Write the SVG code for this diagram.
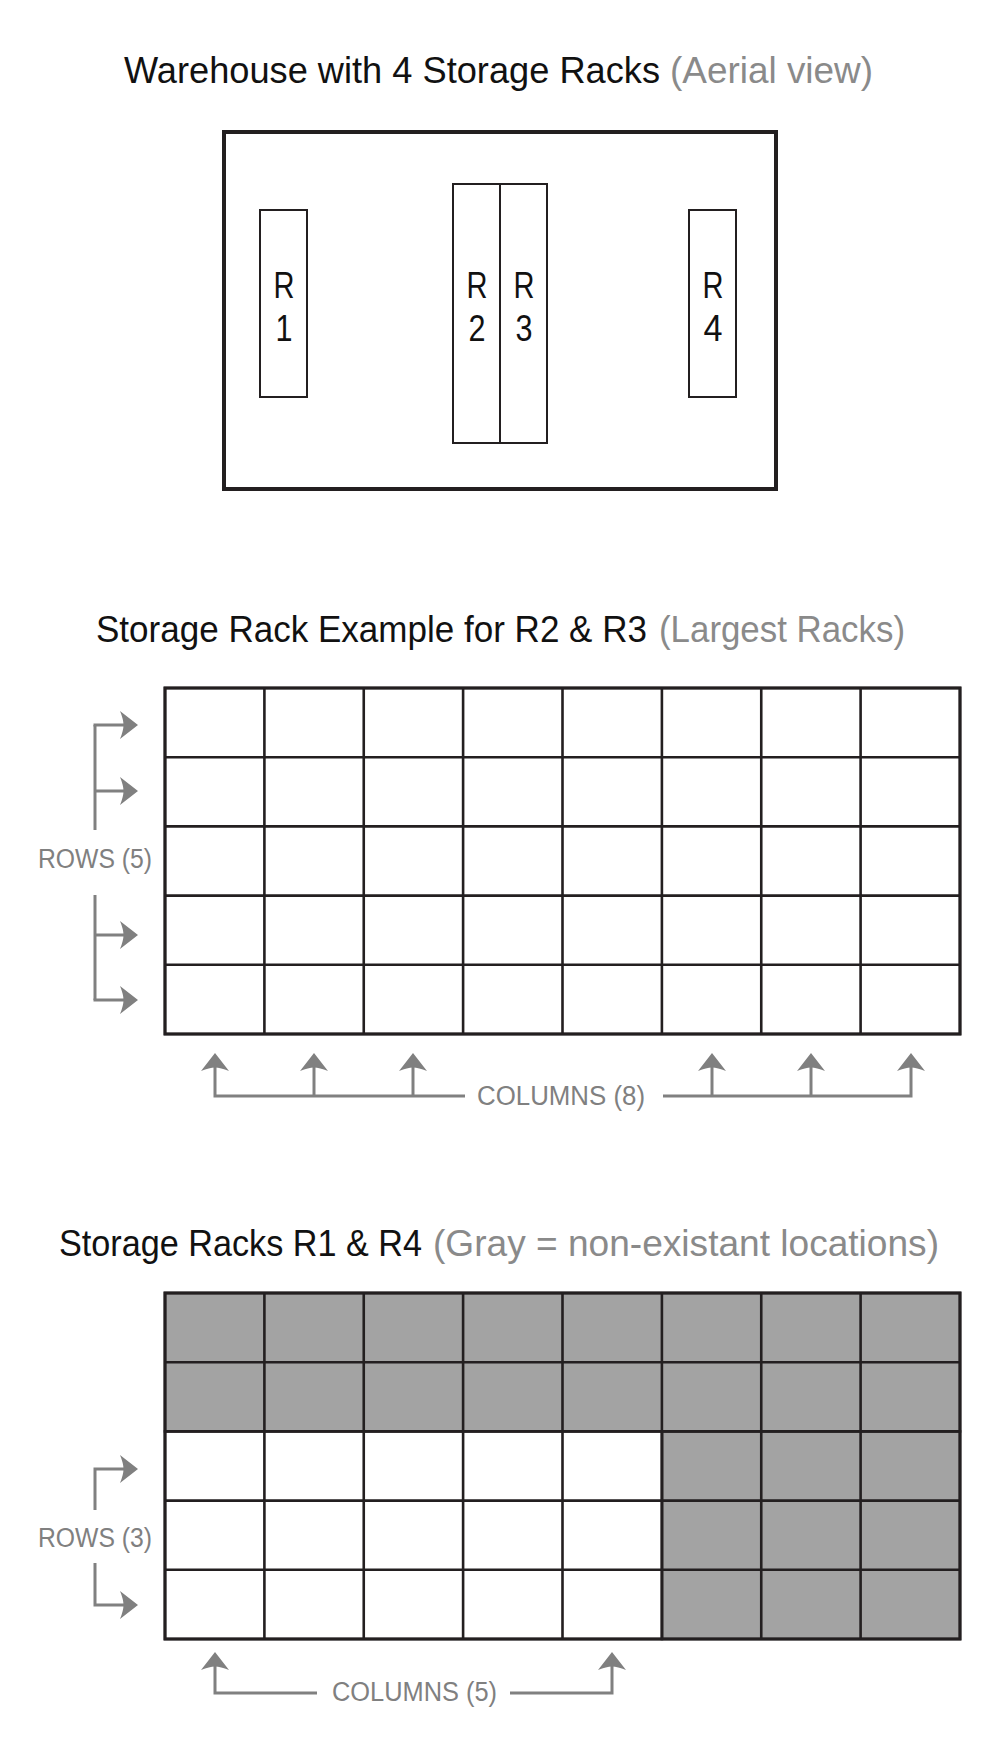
<svg xmlns="http://www.w3.org/2000/svg" width="1000" height="1742" viewBox="0 0 1000 1742">
<style>
.title{font-family:"Liberation Sans",Arial,sans-serif;font-size:37px;fill:#111}
.sub{font-family:"Liberation Sans",Arial,sans-serif;font-size:37px;fill:#8a8a8a}
.lbl{font-family:"Liberation Sans",Arial,sans-serif;font-size:36px;fill:#111;text-anchor:middle}
.ax{font-family:"Liberation Sans",Arial,sans-serif;font-size:27px;fill:#808080}
.rack{fill:#fff;stroke:#231f20;stroke-width:2}
.cell{fill:#fff;stroke:#231f20;stroke-width:2.6}
.gcell{fill:#a3a3a3;stroke:#231f20;stroke-width:2.6}
.arr{fill:none;stroke:#808080;stroke-width:3;marker-end:url(#ah)}
.ln{fill:none;stroke:#808080;stroke-width:3}
</style>
<defs>
<marker id="ah" markerUnits="userSpaceOnUse" markerWidth="22" markerHeight="30" refX="10" refY="14" orient="auto" overflow="visible">
<path d="M18,14 L0,0 Q3.5,8.5 3.5,14 Q3.5,19.5 0,28 Z" fill="#808080"/>
</marker>
</defs>

<g id="title-warehouse">
<text class="title" x="124" y="83" textLength="536" lengthAdjust="spacingAndGlyphs">Warehouse with 4 Storage Racks</text>
<text class="sub" x="670" y="83" textLength="203" lengthAdjust="spacingAndGlyphs">(Aerial view)</text>
</g>
<g id="warehouse">
<rect x="224" y="132" width="552" height="357" fill="#fff" stroke="#231f20" stroke-width="4"/>
</g>
<g id="rack-r1">
<rect class="rack" x="260" y="210" width="47" height="187"/>
<text class="lbl" x="284" y="298" textLength="21" lengthAdjust="spacingAndGlyphs">R</text><text class="lbl" x="284" y="341" textLength="17" lengthAdjust="spacingAndGlyphs">1</text>
</g>
<g id="rack-r2">
<rect class="rack" x="453" y="184" width="47" height="259"/>
<text class="lbl" x="477" y="298" textLength="21" lengthAdjust="spacingAndGlyphs">R</text><text class="lbl" x="477" y="341" textLength="17" lengthAdjust="spacingAndGlyphs">2</text>
</g>
<g id="rack-r3">
<rect class="rack" x="500" y="184" width="47" height="259"/>
<text class="lbl" x="524" y="298" textLength="21" lengthAdjust="spacingAndGlyphs">R</text><text class="lbl" x="524" y="341" textLength="17" lengthAdjust="spacingAndGlyphs">3</text>
</g>
<g id="rack-r4">
<rect class="rack" x="689" y="210" width="47" height="187"/>
<text class="lbl" x="713" y="298" textLength="21" lengthAdjust="spacingAndGlyphs">R</text><text class="lbl" x="713" y="341" textLength="19" lengthAdjust="spacingAndGlyphs">4</text>
</g>

<g id="title-large">
<text class="title" x="96" y="642" textLength="551" lengthAdjust="spacingAndGlyphs">Storage Rack Example for R2 &amp; R3</text>
<text class="sub" x="659" y="642" textLength="246" lengthAdjust="spacingAndGlyphs">(Largest Racks)</text>
</g>
<g id="grid-large">
<rect class="cell" x="165" y="688" width="795" height="346"/>
<path d="M264.4,688V1034M363.75,688V1034M463.1,688V1034M562.5,688V1034M661.9,688V1034M761.25,688V1034M860.6,688V1034M165,757.2H960M165,826.4H960M165,895.6H960M165,964.8H960" fill="none" stroke="#231f20" stroke-width="2.6"/>
<rect x="165" y="688" width="795" height="346" fill="none" stroke="#231f20" stroke-width="3"/>
<text class="ax" x="38" y="868" textLength="114" lengthAdjust="spacingAndGlyphs">ROWS (5)</text>
<text class="ax" x="477" y="1105" textLength="168" lengthAdjust="spacingAndGlyphs">COLUMNS (8)</text>
</g>

<g id="title-small">
<text class="title" x="59" y="1256" textLength="363" lengthAdjust="spacingAndGlyphs">Storage Racks R1 &amp; R4</text>
<text class="sub" x="433" y="1256" textLength="506" lengthAdjust="spacingAndGlyphs">(Gray = non-existant locations)</text>
</g>
<g id="grid-small">
<rect class="gcell" x="165" y="1293" width="795" height="138.4"/>
<rect class="gcell" x="661.9" y="1431.4" width="298.1" height="207.6"/>
<rect class="cell" x="165" y="1431.4" width="496.9" height="207.6"/>
<path d="M264.4,1293V1639M363.75,1293V1639M463.1,1293V1639M562.5,1293V1639M661.9,1293V1639M761.25,1293V1639M860.6,1293V1639M165,1362.2H960M165,1431.4H960M165,1500.6H960M165,1569.8H960" fill="none" stroke="#231f20" stroke-width="2.6"/>
<rect x="165" y="1293" width="795" height="346" fill="none" stroke="#231f20" stroke-width="3"/>
<text class="ax" x="38" y="1547" textLength="114" lengthAdjust="spacingAndGlyphs">ROWS (3)</text>
<text class="ax" x="332" y="1701" textLength="165" lengthAdjust="spacingAndGlyphs">COLUMNS (5)</text>
</g>

<g id="connectors">
<path class="ln" d="M95,830V725"/>
<path class="arr" d="M93.5,725H130"/>
<path class="arr" d="M95,791H130"/>
<path class="ln" d="M95,895V1000"/>
<path class="arr" d="M95,935H130"/>
<path class="arr" d="M93.5,1000H130"/>
<path class="arr" d="M465,1096H215V1061"/>
<path class="arr" d="M314,1096V1061"/>
<path class="arr" d="M413,1096V1061"/>
<path class="arr" d="M663,1096H911V1061"/>
<path class="arr" d="M712,1096V1061"/>
<path class="arr" d="M811,1096V1061"/>
<path class="arr" d="M95,1510V1469H130"/>
<path class="arr" d="M95,1563V1605H130"/>
<path class="arr" d="M317,1693H215V1660"/>
<path class="arr" d="M510,1693H612V1660"/>
</g>
</svg>
